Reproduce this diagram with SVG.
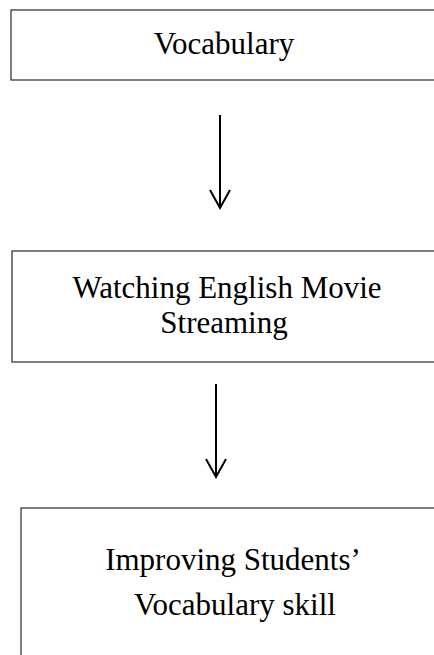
<svg xmlns="http://www.w3.org/2000/svg" width="434" height="655" viewBox="0 0 434 655">
  <defs>
    <style>
      .box { fill: #ffffff; stroke: #2a2a2a; stroke-width: 1.2; }
      .lbl { font-family: "Liberation Serif", "Times New Roman", serif; font-size: 31px; fill: #000000; text-anchor: middle; }
      .conn { stroke: #000000; stroke-width: 2; fill: none; }
    </style>
  </defs>
  <rect x="0" y="0" width="434" height="655" fill="#ffffff"/>
  <g id="node-vocabulary">
    <rect class="box" x="11" y="10" width="440" height="70"/>
    <text class="lbl" x="224" y="54">Vocabulary</text>
  </g>
  <g id="node-watching">
    <rect class="box" x="12" y="251" width="440" height="111"/>
    <text class="lbl" x="227" y="298">Watching English Movie</text>
    <text class="lbl" x="224" y="333">Streaming</text>
  </g>
  <g id="node-improving">
    <rect class="box" x="21" y="508" width="440" height="160"/>
    <text class="lbl" x="233" y="570">Improving Students’</text>
    <text class="lbl" x="235" y="615">Vocabulary skill</text>
  </g>
  <g id="connectors">
    <line class="conn" x1="220" y1="115" x2="220" y2="208"/>
    <polyline class="conn" points="210,190 220,208 230,190"/>
    <line class="conn" x1="216" y1="384" x2="216" y2="477"/>
    <polyline class="conn" points="206,459 216,477 226,459"/>
  </g>
</svg>
